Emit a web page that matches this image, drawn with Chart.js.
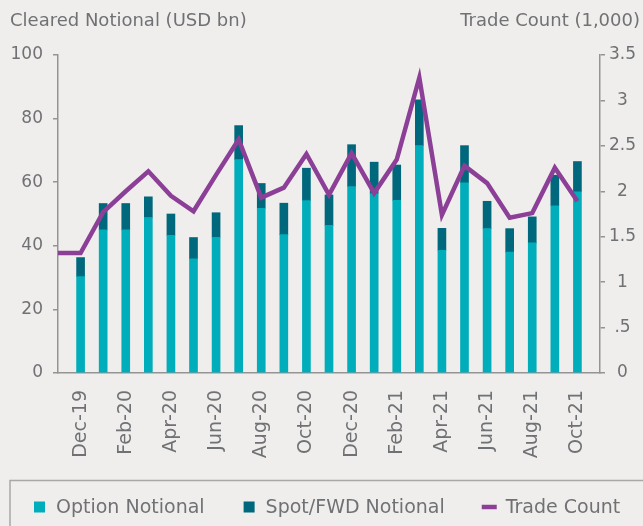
<!DOCTYPE html>
<html>
<head>
<meta charset="utf-8">
<script src="https://cdn.jsdelivr.net/npm/chart.js@4/dist/chart.umd.min.js"></script>
<style>
  html, body { margin: 0; padding: 0; background: #efeeec; }
  #wrap { width: 643px; height: 526px; position: relative; }
</style>
</head>
<body>
<div id="wrap"><canvas id="fxChart"></canvas></div>
<script>
// months (Nov-19 and Nov-21 are empty edge slots, the line starts at Nov-19)
const months = ['Nov-19', 'Dec-19', 'Jan-20', 'Feb-20', 'Mar-20', 'Apr-20', 'May-20', 'Jun-20', 'Jul-20',
    'Aug-20', 'Sep-20', 'Oct-20', 'Nov-20', 'Dec-20', 'Jan-21', 'Feb-21', 'Mar-21', 'Apr-21', 'May-21',
    'Jun-21', 'Jul-21', 'Aug-21', 'Sep-21', 'Oct-21', 'Nov-21'];
const optionNotional = [null, 30.3, 45.0, 45.0, 48.9, 43.3, 35.9, 42.7, 67.1, 51.8, 43.5, 54.2, 46.4,
    58.6, 56.4, 54.3, 71.5, 38.6, 59.8, 45.4, 38.0, 40.9, 52.6, 57.0, null];
const spotFwdNotional = [null, 6.0, 8.3, 8.3, 6.5, 6.7, 6.7, 7.7, 10.7, 7.8, 9.9, 10.2, 9.6,
    13.2, 9.9, 11.1, 14.4, 6.9, 11.7, 8.6, 7.4, 8.2, 9.6, 9.5, null];
const tradeCount = [1.32, 1.32, 1.77, 2.0, 2.22, 1.95, 1.78, 2.18, 2.57, 1.93, 2.04, 2.41, 1.96,
    2.42, 1.98, 2.35, 3.25, 1.74, 2.28, 2.09, 1.71, 1.76, 2.26, 1.89, null];
const tradeTickLabels = ['0', '.5', '1', '1.5', '2', '2.5', '3', '3.5'];

const textGray = '#707174';
const axisGray = '#949494';
const fontFamily = '"DejaVu Sans", sans-serif';

document.addEventListener("DOMContentLoaded", function() {
    const canvas = document.getElementById('fxChart');

    // axis titles, plus the framed legend row at the bottom
    const decorations = {
        id: 'decorations',
        afterDraw(chart) {
            const ctx = chart.ctx;
            ctx.save();
            ctx.fillStyle = textGray;
            ctx.font = '18px ' + fontFamily;
            ctx.textBaseline = 'middle';
            ctx.textAlign = 'left';
            ctx.fillText('Cleared Notional (USD bn)', 10, 21);
            ctx.textAlign = 'right';
            ctx.fillText('Trade Count (1,000)', 640, 21);

            ctx.strokeStyle = '#a8a8a8';
            ctx.lineWidth = 1.5;
            ctx.strokeRect(10, 480.5, 700, 100);

            // legend items
            const y = 507;
            let x = 34;
            ctx.font = '19px ' + fontFamily;
            ctx.textAlign = 'left';
            chart.data.datasets.forEach(ds => {
                if (ds.type === 'line') {
                    ctx.strokeStyle = ds.borderColor;
                    ctx.lineWidth = ds.borderWidth;
                    ctx.beginPath();
                    ctx.moveTo(x - 2, y);
                    ctx.lineTo(x + 13, y);
                    ctx.stroke();
                } else {
                    ctx.fillStyle = ds.backgroundColor;
                    ctx.fillRect(x, y - 5.5, 11, 11);
                }
                ctx.fillStyle = textGray;
                ctx.fillText(ds.label, x + 22, y + 1);
                x += 22 + ctx.measureText(ds.label).width + 39;
            });
            ctx.restore();
        }
    };

    new Chart(canvas.getContext('2d'), {
        type: 'bar',
        data: {
            labels: months,
            datasets: [
                {
                    label: 'Option Notional',
                    data: optionNotional,
                    backgroundColor: '#00adba',
                    barThickness: 8,
                    order: 1
                },
                {
                    label: 'Spot/FWD Notional',
                    data: spotFwdNotional,
                    backgroundColor: '#00687c',
                    barThickness: 8,
                    order: 1
                },
                {
                    type: 'line',
                    label: 'Trade Count',
                    data: tradeCount,
                    yAxisID: 'y1',
                    borderColor: '#8c3f97',
                    backgroundColor: '#8c3f97',
                    borderWidth: 4.5,
                    pointRadius: 0,
                    tension: 0,
                    order: 0
                }
            ]
        },
        options: {
            responsive: true,
            maintainAspectRatio: false,
            animation: false,
            layout: { padding: { top: 55, left: 0, right: 0, bottom: 60 } },
            plugins: {
                tooltip: { enabled: false },
                legend: { display: false }
            },
            scales: {
                x: {
                    stacked: true,
                    offset: false,
                    grid: { display: false },
                    border: { color: axisGray, width: 1.5 },
                    ticks: {
                        autoSkip: false,
                        minRotation: 90,
                        maxRotation: 90,
                        padding: 9,
                        color: textGray,
                        font: { family: fontFamily, size: 19 },
                        callback: (v, i) => (i % 2 === 1 ? months[i] : '')
                    },
                    afterFit: s => { s.height = 93; }
                },
                y: {
                    stacked: true,
                    position: 'left',
                    min: 0,
                    max: 100,
                    grid: { drawOnChartArea: false, color: axisGray, tickLength: 5, lineWidth: 1.5 },
                    border: { color: axisGray, width: 1.5 },
                    ticks: {
                        stepSize: 20,
                        padding: 10,
                        color: textGray,
                        font: { family: fontFamily, size: 17 }
                    },
                    afterFit: s => { s.width = 58; }
                },
                y1: {
                    position: 'right',
                    min: 0,
                    max: 3.5,
                    grid: { drawOnChartArea: false, color: axisGray, tickLength: 5, lineWidth: 1.5 },
                    border: { color: axisGray, width: 1.5 },
                    ticks: {
                        stepSize: 0.5,
                        padding: 4,
                        crossAlign: 'center',
                        color: textGray,
                        font: { family: fontFamily, size: 17 },
                        callback: (v, i) => tradeTickLabels[i]
                    },
                    afterFit: s => { s.width = 43; }
                }
            }
        },
        plugins: [decorations]
    });
});
</script>
</body>
</html>
